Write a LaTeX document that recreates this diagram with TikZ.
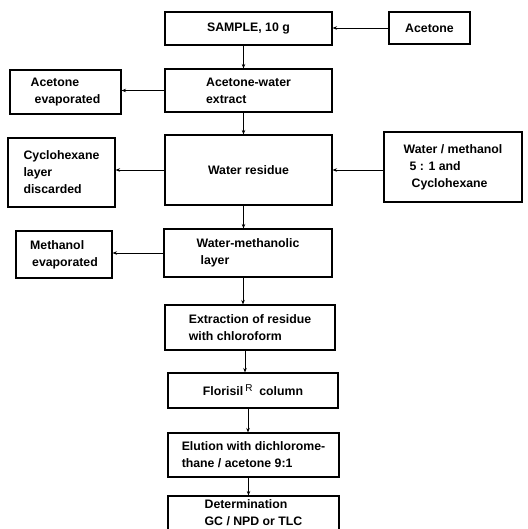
\documentclass[tikz,border=0pt]{standalone}
\usepackage{fontspec}
\setmainfont{Liberation Sans}
\usetikzlibrary{arrows.meta}

\begin{document}
\begin{tikzpicture}[x=1pt, y=-1pt, font=\fontsize{12.3}{17}\selectfont\bfseries,
  >={Stealth[length=4.5pt, width=3.5pt]}, line width=0.8pt,
  flowbox/.style={draw, line width=1.1pt, align=left, inner sep=0pt}]
  \useasboundingbox (0,0) rectangle (527,529);
  % main column
  \node[flowbox, minimum width=167pt, minimum height=33pt] (sample) at (248.5,28.5) {SAMPLE, 10 g};
  \node[flowbox, minimum width=167pt, minimum height=43pt] (aw)     at (248.5,90.5) {Acetone-water\\extract};
  \node[flowbox, minimum width=167pt, minimum height=70pt] (wres)   at (248.5,170)  {Water residue};
  \node[flowbox, minimum width=168pt, minimum height=48pt] (wml)    at (248,253)    {Water-methanolic\\\hspace*{4pt}layer};
  \node[flowbox, minimum width=170pt, minimum height=45pt] (extr)   at (250,327.5)  {Extraction of residue\\with chloroform};
  \node[flowbox, minimum width=170pt, minimum height=35pt] (flor)   at (253,390.5)  {Florisil\,\raisebox{4pt}{\fontsize{10}{10}\selectfont\mdseries R}\ \ column};
  \node[flowbox, minimum width=171pt, minimum height=44pt] (elut)   at (253.5,455)  {Elution with dichlorome-\\thane / acetone 9:1};
  \node[flowbox, minimum width=171pt, minimum height=34pt] (det)    at (253.5,513)  {Determination\\GC / NPD or TLC};
  % side boxes
  \node[flowbox, minimum width=81pt,  minimum height=32pt] (acet)   at (429.5,28)   {Acetone};
  \node[flowbox, minimum width=111pt, minimum height=44pt] (acevap) at (65.5,92)    {Acetone\\\hspace*{4pt}evaporated};
  \node[flowbox, minimum width=107pt, minimum height=69pt] (cyc)    at (61.5,172.5) {Cyclohexane\\layer\\discarded};
  \node[flowbox, minimum width=138pt, minimum height=70pt] (wm)     at (453,167)    {Water / methanol\\\hspace*{6pt}5 : 1 and\\\hspace*{8pt}Cyclohexane};
  \node[flowbox, minimum width=96pt,  minimum height=47pt] (mevap)  at (64,254.5)   {Methanol\\\hspace*{2pt}evaporated};
  % connectors
  \foreach \a/\b in {sample/aw,aw/wres,wres/wml,wml/extr,extr/flor,flor/elut,elut/det}
    \draw[->] ([xshift=-5pt]\a.south) -- ([xshift=-5pt]\a.south |- \b.north);
  \draw[->] (acet.west) -- (acet.west -| sample.east);
  \draw[->] (wm.west |- wres.east) -- (wres.east);
  \foreach \a/\b in {aw/acevap,wres/cyc,wml/mevap}
    \draw[->] (\a.west) -- (\a.west -| \b.east);
\end{tikzpicture}
\end{document}
